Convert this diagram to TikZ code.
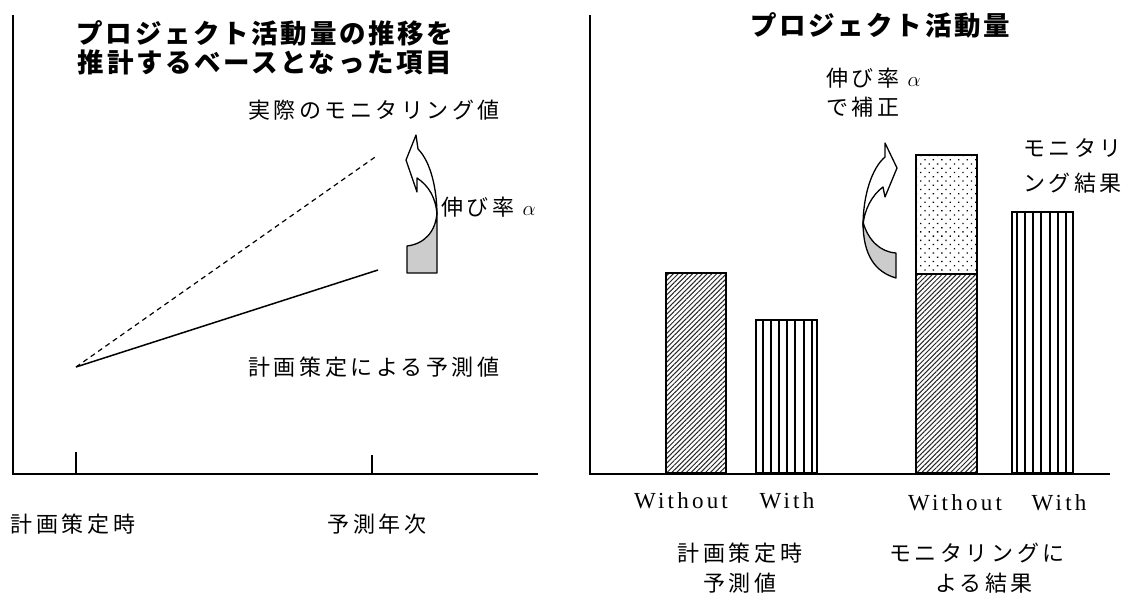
\documentclass[tikz,border=0pt]{standalone}
\usepackage{fontspec}
\setmainfont{Liberation Serif}
\newfontfamily\jp{Noto Sans CJK JP}
\usetikzlibrary{patterns.meta}
\tikzset{
  ax/.style={line width=2pt},
  body/.style={font=\jp\fontsize{22}{24}\selectfont\addfontfeature{LetterSpace=16}, inner sep=0pt},
  ttl/.style={font=\jp\bfseries\fontsize{26.5}{29}\selectfont\addfontfeature{LetterSpace=10}, inner sep=0pt},
  lat/.style={font=\fontsize{23}{26}\selectfont\addfontfeature{LetterSpace=14}, inner sep=0pt},
  barbox/.style={draw, line width=1.6pt},
  diag/.style={pattern={Lines[angle=45,distance=3.4pt,line width=1pt]}, pattern color=black!85},
  vert/.style={pattern={Lines[angle=90,distance=8.2pt,line width=2pt]}},
  dotp/.style={pattern={Dots[angle=45,distance=6pt,radius=0.9pt]}},
  curvarrow/.style={draw, line width=1.3pt, line join=round},
  shade/.style={fill=black!20}
}
\begin{document}
\begin{tikzpicture}[x=1pt,y=-1pt]
\useasboundingbox (0,0) rectangle (1132,601);
% ---------- left panel ----------
\coordinate (lTop) at (13,15);
\coordinate (lO) at (13,474);
\coordinate (lEnd) at (538,474);
\draw[ax] (lTop) -- (lO) -- (lEnd);
\coordinate (t1a) at (76,452); \coordinate (t1b) at (76,474);
\coordinate (t2a) at (372,455); \coordinate (t2b) at (372,474);
\draw[line width=1.6pt] (t1a) -- (t1b) (t2a) -- (t2b);
\coordinate (p0) at (76,367);
\coordinate (pPlan) at (378,270);
\coordinate (pReal) at (378,155);
\draw[line width=1.5pt] (p0) -- (pPlan);
\draw[line width=1.2pt, dash pattern=on 5pt off 4pt] (p0) -- (pReal);
\node[ttl] (tl1) at (265,33) {プロジェクト活動量の推移を};
\node[ttl] (tl2) at (265,62) {推計するベースとなった項目};
\node[body] (real) at (374,110) {実際のモニタリング値};
\node[body] (plan) at (374,367) {計画策定による予測値};
\node[body, anchor=west] (grw) at (441,207) {伸び率 $\alpha$};
\node[body] (xl1) at (73,524) {計画策定時};
\node[body] (xl2) at (377,524) {予測年次};
% left curved arrow
\draw[curvarrow, fill=white] (416,135) -- (406,160) -- (417,192) -- (417,178)
   .. controls (429,186) and (436,198) .. (437,215)
   .. controls (437,190) and (431,162) .. (418,149) -- cycle;
\draw[curvarrow, shade] (407,273) -- (407,246) .. controls (424,244) and (436,232) .. (437,212) -- (437,273) -- cycle;
% ---------- right panel ----------
\coordinate (rTop) at (590,15);
\coordinate (rO) at (590,474);
\coordinate (rEnd) at (1110,474);
\draw[ax] (rTop) -- (rO) -- (rEnd);
\node[ttl] (tr) at (880,25) {プロジェクト活動量};
% bars
\draw[barbox, diag] (666,273) rectangle (726,473);
\draw[barbox, vert] (756,320) rectangle (817,473);
\draw[barbox, dotp] (916,155) rectangle (977,274);
\draw[barbox, diag] (916,274) rectangle (977,473);
\draw[barbox, vert] (1012,212) rectangle (1073,473);
\node[lat] (w1) at (681,501) {Without};
\node[lat] (h1) at (787,501) {With};
\node[lat] (w2) at (955,503) {Without};
\node[lat] (h2) at (1059,503) {With};
\node[body] (c1a) at (740,553) {計画策定時};
\node[body] (c1b) at (740,583) {予測値};
\node[body] (c2a) at (977,553) {モニタリングに};
\node[body] (c2b) at (984,583) {よる結果};
\node[body, anchor=west] (cor1) at (826,78) {伸び率 $\alpha$};
\node[body, anchor=west] (cor2) at (826,107) {で補正};
\node[body, anchor=west] (mon1) at (1023,148) {モニタリ};
\node[body, anchor=west] (mon2) at (1023,183) {ング結果};
% right curved arrow
\draw[curvarrow, fill=white] (885,143) -- (897,168) -- (885,197) -- (883,187)
   .. controls (872,195) and (864,210) .. (863,226)
   .. controls (863,195) and (872,168) .. (885,157) -- cycle;
\draw[curvarrow, shade] (863,222) .. controls (868,240) and (880,252) .. (896,253)
   -- (896,278) .. controls (875,272) and (863,255) .. (863,222) -- cycle;
\end{tikzpicture}
\end{document}
